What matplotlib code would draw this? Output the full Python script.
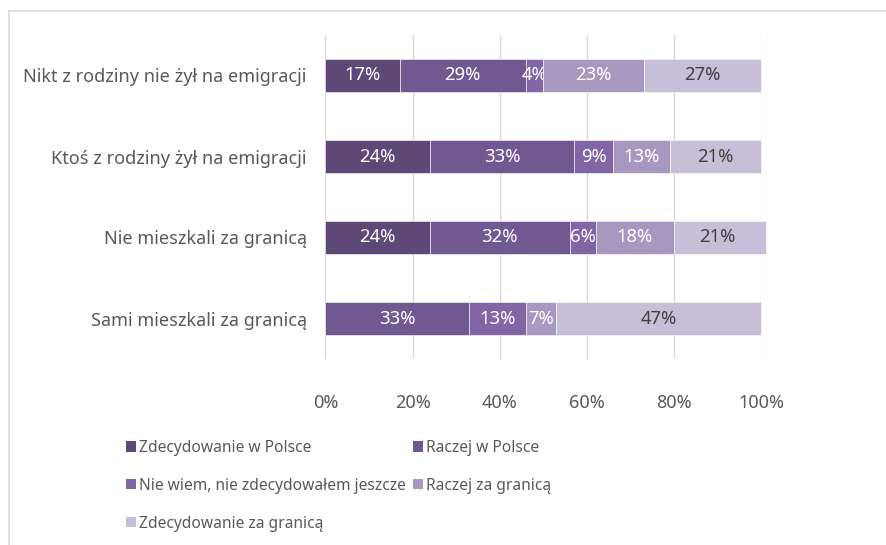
import numpy as np
import matplotlib
matplotlib.use("Agg")
import matplotlib.pyplot as plt
from matplotlib.patches import Patch
from matplotlib.lines import Line2D

plt.rcParams['font.family'] = ['Noto Sans', 'DejaVu Sans']

groups = ["Nikt z rodziny nie żył na emigracji",
          "Ktoś z rodziny żył na emigracji",
          "Nie mieszkali za granicą",
          "Sami mieszkali za granicą"]

answers = ["Zdecydowanie w Polsce",
           "Raczej w Polsce",
           "Nie wiem, nie zdecydowałem jeszcze",
           "Raczej za granicą",
           "Zdecydowanie za granicą"]

# percent per group, in the order of `answers`
zdecydowanie_pl = [17, 24, 24, 0]
raczej_pl = [29, 33, 32, 33]
nie_wiem = [4, 9, 6, 13]
raczej_zagr = [23, 13, 18, 7]
zdecydowanie_zagr = [27, 21, 21, 47]

colors = ["#5e4878", "#6f5990", "#8265a5", "#a897bf", "#c7bfd7"]
text_colors = ["white", "white", "white", "white", "#404040"]

series = [zdecydowanie_pl, raczej_pl, nie_wiem, raczej_zagr, zdecydowanie_zagr]

fig = plt.figure(figsize=(8.87, 5.45), dpi=100)
ax = fig.add_axes([325.5 / 887, 1 - 359 / 545, (761.3 - 325.5) / 887, 324 / 545])

y = np.arange(len(groups))
left = np.zeros(len(groups))
for vals, name, col, tcol in zip(series, answers, colors, text_colors):
    vals = np.array(vals, dtype=float)
    bars = ax.barh(y, vals, left=left, height=0.4, color=col,
                   edgecolor="white", linewidth=0.4, label=name, clip_on=False, zorder=3)
    labels = [f"{int(v)}%" if v > 0 else "" for v in vals]
    ax.bar_label(bars, labels=labels, label_type="center", color=tcol, fontsize=13.3)
    left += vals

ax.set_xlim(0, 100)
ax.set_ylim(len(groups) - 0.5, -0.5)
ax.set_xticks(np.arange(0, 101, 20))
ax.set_xticklabels([f"{t}%" for t in range(0, 101, 20)])
ax.set_yticks(y)
ax.set_yticklabels(groups)
ax.tick_params(axis="x", length=0, pad=25.5, labelsize=13, labelcolor="#595959")
ax.tick_params(axis="y", length=0, pad=13.5, labelsize=13, labelcolor="#595959")
ax.grid(axis="x", color="#d9d9d9", linewidth=1, zorder=0)
ax.set_axisbelow(True)
for s in ax.spines.values():
    s.set_visible(False)

# legend, filled row by row
handles = [Patch(facecolor=c, edgecolor="none") for c in colors]
order = [0, 2, 4, 1, 3]
fig.legend([handles[i] for i in order], [answers[i] for i in order],
           ncol=2, loc="upper left", bbox_to_anchor=(126 / 887, 1 - 440 / 545),
           frameon=False, fontsize=11.2, labelcolor="#595959",
           handlelength=0.64, handleheight=0.64, handletextpad=0.2,
           labelspacing=1.4, columnspacing=0.45, borderpad=0, borderaxespad=0)

# outer chart frame
fig.add_artist(Line2D([9.5 / 887, 1], [1 - 10.5 / 545] * 2, color="#d9d9d9", lw=1.2))
fig.add_artist(Line2D([9.5 / 887] * 2, [0, 1 - 10.5 / 545], color="#d9d9d9", lw=1.2))

fig.savefig("out.png", dpi=100)
